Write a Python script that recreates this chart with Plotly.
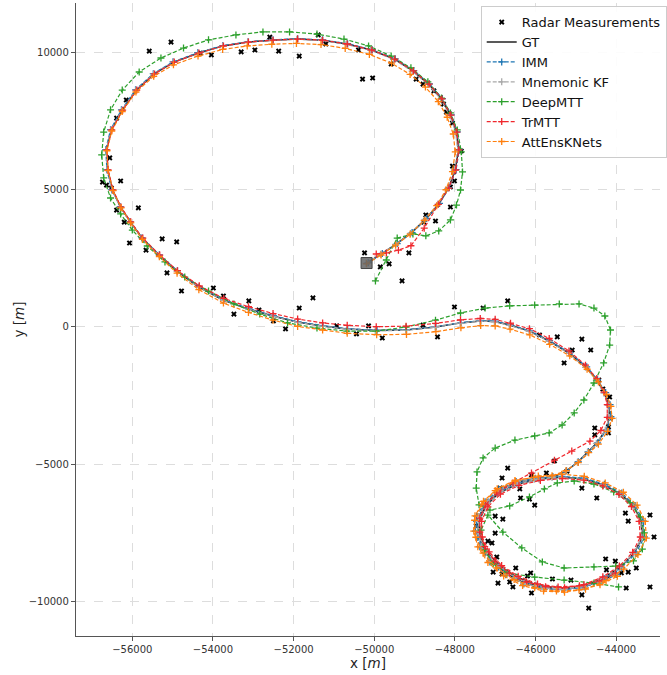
import plotly.graph_objects as go

# ---------------- data (metres) ----------------
gt_x = [-50190,-49820,-49460,-49090,-48720,-48400,-48160,-47990,-47910,-47960,
        -48110,-48330,-48650,-49040,-49500,-50070,-50680,-51290,-51910,-52520,
        -53130,-53750,-54360,-54970,-55460,-55900,-56250,-56520,-56640,-56610,
        -56490,-56290,-56050,-55760,-55340,-54900,-54360,-53750,-53130,-52520,
        -51910,-51290,-50680,-49950,-49210,-48480,-47860,-47370,-47010,-46640,
        -46150,-45660,-45170,-44750,-44480,-44290,-44190,-44160,-44260,-44480,
        -44700,-44950,-45240,-45580,-46020,-46470,-46880,-47200,-47400,-47420,
        -47320,-47080,-46710,-46270,-45780,-45290,-44800,-44310,-43890,-43550,
        -43350,-43380,-43570,-43890,-44310,-44800,-45340,-45900,-46440,-46910,
        -47230,-47400,-47370,-47200,-46880,-46470,-45980,-45460,-44920,-44430,-44020]
gt_y = [2330,2660,3020,3420,3930,4480,5060,5720,6450,7100,
        7720,8310,8850,9330,9760,10090,10310,10450,10490,10450,
        10380,10240,9980,9650,9220,8630,7900,7180,6450,5720,
        4990,4370,3830,3240,2620,2040,1460,980,660,400,
        180,40,-70,-130,-110,0,150,220,200,70,
        -150,-510,-950,-1460,-1930,-2400,-2840,-3280,-3750,-4230,
        -4550,-4920,-5250,-5470,-5540,-5650,-5940,-6380,-6890,-7430,
        -7980,-8530,-9000,-9330,-9510,-9550,-9440,-9140,-8740,-8230,
        -7650,-7070,-6520,-6080,-5760,-5540,-5470,-5540,-5720,-6050,
        -6520,-7070,-7650,-8200,-8710,-9110,-9400,-9510,-9470,-9290,-8990]

imm_x = [-50150,-49800,-49430,-49060,-48700,-48380,-48140,-47970,-47890,-47940,
         -48090,-48310,-48630,-49020,-49480,-50050,-50660,-51280,-51900,-52510,
         -53130,-53760,-54380,-54990,-55480,-55920,-56270,-56540,-56660,-56630,
         -56510,-56300,-56060,-55760,-55330,-54880,-54340,-53730,-53110,-52500,
         -51890,-51270,-50660,-49930,-49200,-48470,-47850,-47360,-47000,-46630,
         -46140,-45650,-45150,-44730,-44460,-44260,-44150,-44130,-44230,-44460,
         -44690,-44940,-45230,-45570,-46010,-46480,-46910,-47250,-47460,-47490,
         -47380,-47130,-46740,-46290,-45790,-45290,-44790,-44290,-43860,-43510,
         -43300,-43330,-43530,-43860,-44290,-44790,-45340,-45910,-46460,-46950,
         -47280,-47460,-47430,-47250,-46920,-46490,-45990,-45460,-44910,-44410,-43990]
imm_y = [2340,2680,3040,3440,3950,4500,5080,5730,6460,7110,
         7730,8320,8860,9340,9770,10100,10320,10460,10500,10460,
         10390,10250,9990,9660,9230,8640,7910,7190,6460,5730,
         5000,4380,3840,3250,2630,2050,1470,990,670,410,
         190,50,-60,-120,-100,10,160,230,210,80,
         -140,-500,-940,-1450,-1920,-2390,-2830,-3270,-3740,-4220,
         -4540,-4910,-5240,-5450,-5520,-5630,-5920,-6370,-6890,-7440,
         -8000,-8560,-9030,-9360,-9540,-9580,-9470,-9170,-8760,-8240,
         -7650,-7060,-6500,-6050,-5730,-5510,-5440,-5510,-5700,-6040,
         -6520,-7080,-7670,-8220,-8740,-9140,-9430,-9540,-9500,-9320,-9020]

mkf_x = [-50200,-49840,-49470,-49100,-48740,-48420,-48180,-48010,-47930,-47980,
         -48130,-48350,-48670,-49060,-49520,-50090,-50700,-51310,-51920,-52530,
         -53140,-53760,-54370,-54980,-55470,-55910,-56260,-56530,-56650,-56620,
         -56500,-56300,-56050,-55750,-55330,-54890,-54350,-53740,-53120,-52510,
         -51900,-51280,-50670,-49950,-49220,-48490,-47870,-47380,-47020,-46650,
         -46160,-45670,-45180,-44760,-44490,-44300,-44200,-44170,-44270,-44490,
         -44710,-44960,-45250,-45590,-46030,-46480,-46890,-47210,-47410,-47430,
         -47330,-47090,-46720,-46280,-45790,-45300,-44810,-44320,-43900,-43560,
         -43360,-43390,-43580,-43900,-44320,-44810,-45350,-45910,-46450,-46920,
         -47240,-47410,-47380,-47210,-46890,-46480,-45990,-45470,-44930,-44440,-44030]
mkf_y = [2320,2650,3010,3410,3920,4470,5050,5710,6440,7090,
         7710,8300,8840,9320,9750,10080,10300,10440,10480,10440,
         10370,10230,9970,9640,9210,8620,7890,7170,6440,5710,
         4980,4360,3820,3230,2610,2030,1450,970,650,390,
         170,30,-80,-140,-120,-10,140,210,190,60,
         -160,-520,-960,-1470,-1940,-2410,-2850,-3290,-3760,-4240,
         -4560,-4930,-5260,-5480,-5550,-5660,-5950,-6390,-6900,-7440,
         -7990,-8540,-9010,-9340,-9520,-9560,-9450,-9150,-8750,-8240,
         -7660,-7080,-6530,-6090,-5770,-5550,-5480,-5550,-5730,-6060,
         -6530,-7080,-7660,-8210,-8720,-9120,-9410,-9520,-9480,-9300,-9000]

deepmtt_xy = [
    (-49970,1680),(-49700,2440),(-49430,3240),(-49040,3390),(-48720,3320),(-48400,3500),
    (-48110,3900),(-47960,4440),(-47860,4990),(-47810,5650),(-47840,6380),(-47940,7180),
    (-48110,7800),(-48330,8340),(-48670,8930),(-49090,9440),(-49580,9870),(-50140,10240),
    (-50750,10490),(-51420,10670),(-52100,10750),(-52760,10750),(-53430,10640),(-54110,10460),
    (-54730,10160),(-55290,9800),(-55830,9290),(-56250,8630),(-56540,7910),(-56710,7100),
    (-56760,6270),(-56710,5430),(-56540,4700),(-56290,4120),(-56000,3530),(-55630,2950),
    (-55190,2370),(-54700,1820),(-54110,1310),(-53480,840),(-52840,470),(-52150,150),
    (-51420,-40),(-50680,-150),(-49950,-150),(-49210,0),(-48480,250),(-47860,510),
    (-47250,690),(-46640,770),(-46020,800),(-45410,840),(-44920,840),(-44550,690),
    (-44280,400),(-44140,-110),(-44160,-660),(-44310,-1310),(-44550,-2040),(-44800,-2660),
    (-45040,-3130),(-45340,-3570),(-45660,-3860),(-46020,-3970),(-46510,-4120),(-47000,-4410),
    (-47300,-4770),(-47450,-5280),(-47470,-5870),(-47400,-6480),(-47130,-6670),(-46640,-6520),
    (-46150,-6190),(-45780,-5900),(-45460,-5680),(-45040,-5610),(-44550,-5720),(-44060,-6010),
    (-43650,-6410),(-43400,-6920),(-43300,-7500),(-43350,-8090),(-43570,-8520),(-44010,-8710),
    (-44550,-8740),(-45290,-8780),(-45830,-8560),(-46340,-8050),(-46810,-7470),(-47180,-6850),
    (-47350,-7400),(-47270,-8120),(-47050,-8630),(-46710,-8960),(-46020,-9110),(-45290,-9220),
    (-44550,-9330),(-43940,-9470)]

trmtt_xy = [
    (-49950,2660),(-49700,2700),(-49400,2800),(-49090,2960),(-48760,3600),(-48410,4470),
    (-48150,5060),(-47980,5720),(-47900,6450),(-47950,7100),(-48100,7720),(-48320,8310),
    (-48640,8850),(-49030,9330),(-49490,9760),(-50060,10090),(-50670,10310),(-51280,10450),
    (-51900,10490),(-52510,10450),(-53120,10380),(-53740,10240),(-54350,9980),(-54960,9650),
    (-55450,9220),(-55890,8630),(-56240,7900),(-56510,7180),(-56630,6450),(-56600,5720),
    (-56480,4990),(-56280,4370),(-56040,3830),(-55740,3240),(-55320,2620),(-54880,2050),
    (-54340,1500),(-53730,1040),(-53120,740),(-52510,490),(-51900,290),(-51280,150),
    (-50670,60),(-49950,10),(-49210,30),(-48480,130),(-47860,260),(-47370,310),
    (-47000,280),(-46620,140),(-46150,-60),(-45660,-420),(-45170,-870),(-44760,-1390),
    (-44480,-1880),(-44300,-2370),(-44220,-2830),(-44220,-3290),(-44380,-3770),(-44650,-4160),
    (-45100,-4520),(-45530,-4850),(-46100,-5320),(-46560,-5680),(-46960,-6040),(-47240,-6480),
    (-47380,-6960),(-47380,-7470),(-47260,-8000),(-47010,-8530),(-46650,-8970),(-46220,-9290),
    (-45750,-9460),(-45280,-9500),(-44800,-9390),(-44330,-9100),(-43920,-8710),(-43590,-8210),
    (-43400,-7650),(-43430,-7080),(-43620,-6540),(-43930,-6100),(-44330,-5790),(-44800,-5580),
    (-45330,-5520),(-45880,-5590),(-46410,-5770),(-46870,-6090),(-47180,-6550),(-47340,-7080),
    (-47320,-7650),(-47150,-8190),(-46840,-8690),(-46430,-9080),(-45950,-9360),(-45440,-9470),
    (-44910,-9430),(-44420,-9260),(-44020,-8970)]

attensknets_xy = [
    (-50190,2300),(-49830,2620),(-49470,2980),(-49110,3380),(-48760,3880),(-48450,4420),
    (-48220,5000),(-48060,5660),(-47990,6380),(-48040,7030),(-48190,7640),(-48410,8210),
    (-48730,8740),(-49110,9200),(-49570,9610),(-50120,9930),(-50720,10150),(-51320,10290),
    (-51930,10330),(-52540,10300),(-53150,10240),(-53760,10110),(-54370,9870),(-54980,9550),
    (-55470,9130),(-55910,8560),(-56250,7850),(-56510,7140),(-56630,6420),(-56600,5700),
    (-56480,4970),(-56280,4340),(-56040,3790),(-55750,3190),(-55330,2560),(-54890,1960),
    (-54350,1360),(-53740,870),(-53120,530),(-52510,250),(-51900,20),(-51280,-110),
    (-50670,-230),(-49940,-280),(-49200,-270),(-48470,-170),(-47850,-30),(-47360,50),
    (-47000,40),(-46630,-80),(-46140,-290),(-45650,-630),(-45150,-1050),(-44720,-1540),
    (-44440,-2000),(-44240,-2460),(-44130,-2890),(-44100,-3330),(-44210,-3800),(-44440,-4270),
    (-44680,-4580),(-44940,-4940),(-45240,-5230),(-45590,-5420),(-46050,-5480),(-46510,-5590),
    (-46950,-5890),(-47290,-6350),(-47500,-6880),(-47530,-7440),(-47430,-8010),(-47180,-8580),
    (-46790,-9070),(-46320,-9420),(-45800,-9620),(-45280,-9660),(-44760,-9550),(-44250,-9240),
    (-43810,-8820),(-43460,-8290),(-43250,-7690),(-43280,-7080),(-43480,-6490),(-43820,-6020),
    (-44270,-5680),(-44790,-5440),(-45350,-5360),(-45930,-5430),(-46500,-5620),(-47000,-5960),
    (-47330,-6450),(-47510,-7040),(-47480,-7660),(-47300,-8240),(-46960,-8780),(-46530,-9200),
    (-46020,-9500),(-45480,-9620),(-44920,-9580),(-44400,-9390),(-43970,-9080)]

radar_xy = [
    (-55580,10050),(-55040,10380),(-54310,9980),(-54040,9910),(-53300,10020),(-52960,10090),
    (-52590,10560),(-52370,10050),(-51860,9870),(-51390,10640),(-51200,10310),(-50390,10090),
    (-50290,9030),(-50040,9070),(-49580,9580),(-48960,9030),(-48790,8850),(-48520,8600),
    (-48280,8120),(-48210,7830),(-48060,7430),(-47840,6410),(-48060,5860),(-48030,5650),
    (-48010,5320),(-48110,5100),(-48110,4370),(-48720,4080),(-48770,3820),(-48480,3860),
    (-49140,2700),(-49310,1680),(-49630,2300),(-49850,2190),(-50240,2700),(-48010,730),
    (-56560,6160),(-56740,5280),(-56640,5170),(-56520,5060),(-56290,5320),(-56390,4260),
    (-55850,4340),(-56200,3820),(-56070,3060),(-55660,2800),(-55260,3210),(-54900,3100),
    (-56390,7610),(-56150,8270),
    (-53990,1420),(-53740,1130),(-53480,470),(-53110,950),(-52860,620),(-52500,220),
    (-52200,-70),(-51860,690),(-51520,1060),(-50930,40),(-50440,-250),(-50140,40),
    (-49800,-400),(-48790,70),(-48430,-360),(-54780,1310),(-55140,1970),
    (-47300,690),(-46690,950),(-45900,-290),(-45460,-360),
    (-44850,-440),(-45090,-840),(-44630,-840),(-45290,-1310),(-44430,-1930),(-44330,-2260),
    (-44160,-2550),(-44140,-3320),(-44190,-3640),(-44190,-3860),(-44530,-3680),(-44530,-3930),
    (-46690,-5140),(-45530,-4880),(-45730,-5320),(-46100,-5390),(-45220,-5250),(-46830,-5500),
    (-46880,-5870),(-46390,-5900),(-46370,-6230),(-46150,-6270),(-46020,-6490),(-44850,-5870),
    (-44480,-6230),(-43770,-6780),(-43700,-7070),(-47000,-6890),(-46810,-7000),(-47470,-7250),
    (-47000,-7510),(-47180,-7800),(-47080,-7870),(-46960,-8380),(-46490,-8780),(-47050,-8930),
    (-46830,-9000),(-46930,-9330),(-46640,-9290),(-46560,-9470),(-46200,-9070),(-46120,-8960),
    (-46100,-9690),(-45580,-9180),(-45120,-9220),(-44850,-9760),(-44680,-10240),(-44260,-8450),
    (-44020,-8530),(-44240,-8850),(-43870,-8960),(-43700,-8930),(-43750,-9510),(-43500,-8780),
    (-43160,-6850),(-43060,-7650),(-43160,-9470)]

start_xy = [(-50190, 2330)]

x_ticks = [-56000, -54000, -52000, -50000, -48000, -46000, -44000]
x_labels = ["\u221256000", "\u221254000", "\u221252000", "\u221250000",
            "\u221248000", "\u221246000", "\u221244000"]
y_ticks = [-10000, -5000, 0, 5000, 10000]
y_labels = ["\u221210000", "\u22125000", "0", "5000", "10000"]

# ---------------- figure ----------------
fig = go.Figure()

fig.add_trace(go.Scatter(
    x=[p[0] for p in radar_xy], y=[p[1] for p in radar_xy], mode="markers",
    name="Radar Measurements",
    marker=dict(symbol="x", size=5, color="black", line=dict(width=0))))

fig.add_trace(go.Scatter(x=gt_x, y=gt_y, mode="lines", name="GT",
                         line=dict(color="#222222", width=1.5)))

def est(name, xs, ys, color):
    fig.add_trace(go.Scatter(
        x=xs, y=ys, mode="lines+markers", name=name,
        line=dict(color=color, width=1.2, dash="4px,2px"),
        marker=dict(symbol="cross-thin", size=5, color=color,
                    line=dict(width=1.3, color=color))))

est("IMM", imm_x, imm_y, "#1f77b4")
est("Mnemonic KF", mkf_x, mkf_y, "#a9a9a9")
est("DeepMTT", [p[0] for p in deepmtt_xy], [p[1] for p in deepmtt_xy], "#2ca02c")
est("TrMTT", [p[0] for p in trmtt_xy], [p[1] for p in trmtt_xy], "#f0282d")
est("AttEnsKNets", [p[0] for p in attensknets_xy], [p[1] for p in attensknets_xy], "#ff7f0e")

fig.add_trace(go.Scatter(
    x=[p[0] for p in start_xy], y=[p[1] for p in start_xy], mode="markers",
    showlegend=False,
    marker=dict(symbol="square", size=11, color="rgba(100,100,100,0.85)",
                line=dict(width=1, color="#444444"))))

axis_common = dict(
    showgrid=True, gridcolor="#dddddd", griddash="dash", gridwidth=0.8,
    showline=True, linecolor="#555555", linewidth=1.3, mirror=False,
    ticks="outside", ticklen=4, tickwidth=1, tickcolor="#555555",
    zeroline=False, automargin=False,
    tickfont=dict(family="DejaVu Sans", size=10, color="#333333"),
)

fig.update_layout(
    template="none",
    width=667, height=675,
    margin=dict(l=76, r=0, t=3, b=39, pad=0),
    paper_bgcolor="white", plot_bgcolor="white",
    font=dict(family="DejaVu Sans", color="#222222"),
    xaxis=dict(range=[-57397, -42912], tickvals=x_ticks, ticktext=x_labels,
               title=dict(text="x [<i>m</i>]", font=dict(size=13.5), standoff=4),
               **axis_common),
    yaxis=dict(range=[-11257, 11803], tickvals=y_ticks, ticktext=y_labels,
               title=dict(text="y [<i>m</i>]", font=dict(size=13.5), standoff=0),
               **axis_common),
    legend=dict(x=0.693, y=0.995, xanchor="left", yanchor="top",
                bgcolor="rgba(255,255,255,0.9)", bordercolor="#cccccc", borderwidth=1,
                font=dict(family="DejaVu Sans", size=13, color="#111111"),
                itemwidth=30, tracegroupgap=0),
    showlegend=True,
)

fig.write_html("out.html", config={"displayModeBar": False},
               post_script="document.body.style.margin='0px';")
